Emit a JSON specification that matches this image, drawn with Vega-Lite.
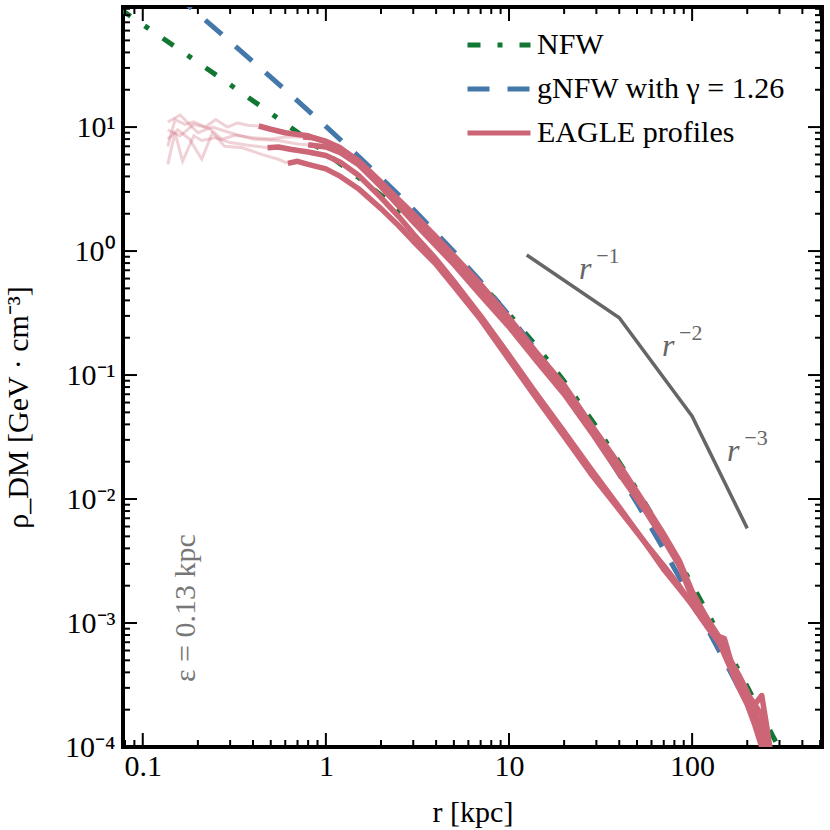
{
  "$schema": "https://vega.github.io/schema/vega-lite/v6.json",
  "width": 699,
  "height": 740,
  "autosize": {"type": "none"},
  "padding": {"left": 123, "top": 7, "right": 8, "bottom": 83},
  "background": "white",
  "config": {
    "view": {"stroke": "black", "strokeWidth": 4},
    "axis": {"domain": false, "grid": false, "ticks": false,
      "labelFont": "Liberation Serif", "labelFontSize": 30, "labelColor": "black",
      "titleFont": "Liberation Serif", "titleFontSize": 30, "titleFontWeight": "normal", "titleColor": "black"}
  },
  "datasets": {
    "models": [
      {"series": "NFW", "r": 0.075, "rho": 89.76}, {"series": "NFW", "r": 0.1, "rho": 67.16}, {"series": "NFW", "r": 0.15, "rho": 44.56},
      {"series": "NFW", "r": 0.2, "rho": 33.26}, {"series": "NFW", "r": 0.3, "rho": 21.97}, {"series": "NFW", "r": 0.5, "rho": 12.94},
      {"series": "NFW", "r": 0.7, "rho": 9.071}, {"series": "NFW", "r": 1, "rho": 6.178}, {"series": "NFW", "r": 1.5, "rho": 3.937},
      {"series": "NFW", "r": 2, "rho": 2.826}, {"series": "NFW", "r": 3, "rho": 1.73}, {"series": "NFW", "r": 5, "rho": 0.8846},
      {"series": "NFW", "r": 7, "rho": 0.5448}, {"series": "NFW", "r": 10, "rho": 0.3111}, {"series": "NFW", "r": 15, "rho": 0.1538},
      {"series": "NFW", "r": 20, "rho": 0.08893}, {"series": "NFW", "r": 30, "rho": 0.03832}, {"series": "NFW", "r": 50, "rho": 0.011863},
      {"series": "NFW", "r": 70, "rho": 0.005158}, {"series": "NFW", "r": 100, "rho": 0.0020422}, {"series": "NFW", "r": 150, "rho": 0.0006817},
      {"series": "NFW", "r": 200, "rho": 0.0003061}, {"series": "NFW", "r": 300, "rho": 0.00009673}, {"series": "NFW", "r": 400, "rho": 0.00004218},
      {"series": "gNFW with γ = 1.26", "r": 0.15, "rho": 118.6}, {"series": "gNFW with γ = 1.26", "r": 0.2, "rho": 82.18},
      {"series": "gNFW with γ = 1.26", "r": 0.3, "rho": 48.9}, {"series": "gNFW with γ = 1.26", "r": 0.5, "rho": 25.26},
      {"series": "gNFW with γ = 1.26", "r": 0.7, "rho": 16.26}, {"series": "gNFW with γ = 1.26", "r": 1, "rho": 10.125},
      {"series": "gNFW with γ = 1.26", "r": 1.5, "rho": 5.837}, {"series": "gNFW with γ = 1.26", "r": 2, "rho": 3.906},
      {"series": "gNFW with γ = 1.26", "r": 3, "rho": 2.1727}, {"series": "gNFW with γ = 1.26", "r": 5, "rho": 0.9903},
      {"series": "gNFW with γ = 1.26", "r": 7, "rho": 0.5685}, {"series": "gNFW with γ = 1.26", "r": 10, "rho": 0.3029},
      {"series": "gNFW with γ = 1.26", "r": 15, "rho": 0.13951}, {"series": "gNFW with γ = 1.26", "r": 20, "rho": 0.0772},
      {"series": "gNFW with γ = 1.26", "r": 30, "rho": 0.031544}, {"series": "gNFW with γ = 1.26", "r": 50, "rho": 0.009273},
      {"series": "gNFW with γ = 1.26", "r": 70, "rho": 0.00393}, {"series": "gNFW with γ = 1.26", "r": 100, "rho": 0.0015236},
      {"series": "gNFW with γ = 1.26", "r": 150, "rho": 0.0004999}, {"series": "gNFW with γ = 1.26", "r": 200, "rho": 0.00022245},
      {"series": "gNFW with γ = 1.26", "r": 300, "rho": 0.00006957}
    ],
    "eagle": [
      {"id": "A", "r": 0.43, "rho": 10.2}, {"id": "A", "r": 0.5, "rho": 9.6}, {"id": "A", "r": 0.6, "rho": 9.0}, {"id": "A", "r": 0.7, "rho": 8.7},
      {"id": "A", "r": 0.8, "rho": 8.5}, {"id": "A", "r": 0.9, "rho": 8.0}, {"id": "A", "r": 1.0, "rho": 7.6}, {"id": "A", "r": 1.2, "rho": 6.7},
      {"id": "A", "r": 1.5, "rho": 5.4}, {"id": "A", "r": 2, "rho": 3.6}, {"id": "A", "r": 2.5, "rho": 2.6}, {"id": "A", "r": 3, "rho": 2.0},
      {"id": "A", "r": 4, "rho": 1.3}, {"id": "A", "r": 5, "rho": 0.92}, {"id": "A", "r": 7, "rho": 0.54}, {"id": "A", "r": 10, "rho": 0.29},
      {"id": "A", "r": 14, "rho": 0.155}, {"id": "A", "r": 20, "rho": 0.083}, {"id": "A", "r": 28, "rho": 0.04}, {"id": "A", "r": 40, "rho": 0.019},
      {"id": "A", "r": 55, "rho": 0.0092}, {"id": "A", "r": 70, "rho": 0.0052}, {"id": "A", "r": 85, "rho": 0.0032}, {"id": "A", "r": 100, "rho": 0.0018},
      {"id": "A", "r": 120, "rho": 0.0011}, {"id": "A", "r": 140, "rho": 0.00075}, {"id": "A", "r": 160, "rho": 0.0005}, {"id": "A", "r": 180, "rho": 0.00035},
      {"id": "A", "r": 200, "rho": 0.00027}, {"id": "A", "r": 220, "rho": 0.00022}, {"id": "A", "r": 240, "rho": 0.00018}, {"id": "A", "r": 260, "rho": 0.0001},
      {"id": "A", "r": 280, "rho": 0.00006},
      {"id": "B", "r": 0.75, "rho": 8.3}, {"id": "B", "r": 0.85, "rho": 8.2}, {"id": "B", "r": 1.0, "rho": 7.7}, {"id": "B", "r": 1.2, "rho": 6.8},
      {"id": "B", "r": 1.5, "rho": 5.3}, {"id": "B", "r": 2, "rho": 3.5}, {"id": "B", "r": 2.5, "rho": 2.45}, {"id": "B", "r": 3, "rho": 1.85},
      {"id": "B", "r": 4, "rho": 1.2}, {"id": "B", "r": 5, "rho": 0.85}, {"id": "B", "r": 7, "rho": 0.49}, {"id": "B", "r": 10, "rho": 0.265},
      {"id": "B", "r": 14, "rho": 0.145}, {"id": "B", "r": 20, "rho": 0.078}, {"id": "B", "r": 28, "rho": 0.037}, {"id": "B", "r": 40, "rho": 0.017},
      {"id": "B", "r": 55, "rho": 0.0085}, {"id": "B", "r": 70, "rho": 0.005}, {"id": "B", "r": 85, "rho": 0.003}, {"id": "B", "r": 100, "rho": 0.0017},
      {"id": "B", "r": 120, "rho": 0.0011}, {"id": "B", "r": 140, "rho": 0.0007}, {"id": "B", "r": 160, "rho": 0.00045}, {"id": "B", "r": 180, "rho": 0.0003},
      {"id": "B", "r": 200, "rho": 0.00022}, {"id": "B", "r": 220, "rho": 0.00015}, {"id": "B", "r": 240, "rho": 0.0001}, {"id": "B", "r": 260, "rho": 0.00007},
      {"id": "C", "r": 0.48, "rho": 6.8}, {"id": "C", "r": 0.55, "rho": 6.9}, {"id": "C", "r": 0.65, "rho": 6.6}, {"id": "C", "r": 0.8, "rho": 6.3},
      {"id": "C", "r": 1.0, "rho": 5.9}, {"id": "C", "r": 1.2, "rho": 5.2}, {"id": "C", "r": 1.5, "rho": 4.1}, {"id": "C", "r": 2, "rho": 2.7},
      {"id": "C", "r": 2.5, "rho": 1.9}, {"id": "C", "r": 3, "rho": 1.38}, {"id": "C", "r": 4, "rho": 0.86}, {"id": "C", "r": 5, "rho": 0.57},
      {"id": "C", "r": 7, "rho": 0.3}, {"id": "C", "r": 10, "rho": 0.145}, {"id": "C", "r": 14, "rho": 0.072}, {"id": "C", "r": 20, "rho": 0.035},
      {"id": "C", "r": 28, "rho": 0.0175}, {"id": "C", "r": 40, "rho": 0.0086}, {"id": "C", "r": 55, "rho": 0.0045}, {"id": "C", "r": 70, "rho": 0.0027},
      {"id": "C", "r": 85, "rho": 0.0019}, {"id": "C", "r": 100, "rho": 0.0014}, {"id": "C", "r": 120, "rho": 0.00095}, {"id": "C", "r": 140, "rho": 0.0007},
      {"id": "C", "r": 155, "rho": 0.0006}, {"id": "C", "r": 170, "rho": 0.0004}, {"id": "C", "r": 200, "rho": 0.00024}, {"id": "C", "r": 230, "rho": 0.00014},
      {"id": "C", "r": 260, "rho": 0.00008},
      {"id": "D", "r": 0.62, "rho": 5.1}, {"id": "D", "r": 0.7, "rho": 5.3}, {"id": "D", "r": 0.8, "rho": 5.0}, {"id": "D", "r": 1.0, "rho": 4.6},
      {"id": "D", "r": 1.2, "rho": 4.0}, {"id": "D", "r": 1.5, "rho": 3.2}, {"id": "D", "r": 2, "rho": 2.2}, {"id": "D", "r": 2.5, "rho": 1.6},
      {"id": "D", "r": 3, "rho": 1.2}, {"id": "D", "r": 4, "rho": 0.78}, {"id": "D", "r": 5, "rho": 0.52}, {"id": "D", "r": 7, "rho": 0.28},
      {"id": "D", "r": 10, "rho": 0.133}, {"id": "D", "r": 14, "rho": 0.066}, {"id": "D", "r": 20, "rho": 0.032}, {"id": "D", "r": 28, "rho": 0.016},
      {"id": "D", "r": 40, "rho": 0.0082}, {"id": "D", "r": 55, "rho": 0.0045}, {"id": "D", "r": 70, "rho": 0.0029}, {"id": "D", "r": 85, "rho": 0.002},
      {"id": "D", "r": 100, "rho": 0.0014}, {"id": "D", "r": 120, "rho": 0.00095}, {"id": "D", "r": 140, "rho": 0.0007}, {"id": "D", "r": 160, "rho": 0.00052},
      {"id": "D", "r": 180, "rho": 0.00038}, {"id": "D", "r": 200, "rho": 0.00028}, {"id": "D", "r": 230, "rho": 0.00016}, {"id": "D", "r": 250, "rho": 0.0001},
      {"id": "E", "r": 0.8, "rho": 7.2}, {"id": "E", "r": 1.0, "rho": 6.9}, {"id": "E", "r": 1.2, "rho": 6.2}, {"id": "E", "r": 1.5, "rho": 5.0},
      {"id": "E", "r": 2, "rho": 3.3}, {"id": "E", "r": 2.5, "rho": 2.3}, {"id": "E", "r": 3, "rho": 1.72}, {"id": "E", "r": 4, "rho": 1.1},
      {"id": "E", "r": 5, "rho": 0.78}, {"id": "E", "r": 7, "rho": 0.44}, {"id": "E", "r": 10, "rho": 0.245}, {"id": "E", "r": 14, "rho": 0.132},
      {"id": "E", "r": 20, "rho": 0.07}, {"id": "E", "r": 28, "rho": 0.035}, {"id": "E", "r": 40, "rho": 0.016}, {"id": "E", "r": 55, "rho": 0.0082},
      {"id": "E", "r": 70, "rho": 0.0047}, {"id": "E", "r": 85, "rho": 0.0029}, {"id": "E", "r": 100, "rho": 0.0016}, {"id": "E", "r": 120, "rho": 0.0011},
      {"id": "E", "r": 140, "rho": 0.00078}, {"id": "E", "r": 150, "rho": 0.00075}, {"id": "E", "r": 165, "rho": 0.00046}, {"id": "E", "r": 185, "rho": 0.00033}, {"id": "E", "r": 205, "rho": 0.00025},
      {"id": "E", "r": 220, "rho": 0.00022}, {"id": "E", "r": 240, "rho": 0.00026}, {"id": "E", "r": 255, "rho": 0.00015}, {"id": "E", "r": 275, "rho": 0.00007}
    ],
    "faded": [
      {"id": "A", "r": 0.137, "rho": 7.0}, {"id": "A", "r": 0.15, "rho": 11.5}, {"id": "A", "r": 0.17, "rho": 10.5}, {"id": "A", "r": 0.19, "rho": 11.0},
      {"id": "A", "r": 0.22, "rho": 10.0}, {"id": "A", "r": 0.25, "rho": 11.5}, {"id": "A", "r": 0.29, "rho": 10.0}, {"id": "A", "r": 0.33, "rho": 10.8},
      {"id": "A", "r": 0.38, "rho": 10.3}, {"id": "A", "r": 0.43, "rho": 10.2},
      {"id": "B", "r": 0.137, "rho": 9.5}, {"id": "B", "r": 0.16, "rho": 8.5}, {"id": "B", "r": 0.19, "rho": 10.5}, {"id": "B", "r": 0.23, "rho": 9.8},
      {"id": "B", "r": 0.27, "rho": 8.0}, {"id": "B", "r": 0.32, "rho": 8.6}, {"id": "B", "r": 0.4, "rho": 8.2}, {"id": "B", "r": 0.5, "rho": 8.0},
      {"id": "B", "r": 0.6, "rho": 8.3}, {"id": "B", "r": 0.75, "rho": 8.3},
      {"id": "C", "r": 0.137, "rho": 5.0}, {"id": "C", "r": 0.15, "rho": 9.0}, {"id": "C", "r": 0.165, "rho": 5.3}, {"id": "C", "r": 0.19, "rho": 8.5},
      {"id": "C", "r": 0.21, "rho": 7.8}, {"id": "C", "r": 0.25, "rho": 8.2}, {"id": "C", "r": 0.3, "rho": 7.5}, {"id": "C", "r": 0.36, "rho": 7.2},
      {"id": "C", "r": 0.42, "rho": 7.0}, {"id": "C", "r": 0.48, "rho": 6.8},
      {"id": "D", "r": 0.137, "rho": 8.0}, {"id": "D", "r": 0.155, "rho": 9.5}, {"id": "D", "r": 0.18, "rho": 8.0}, {"id": "D", "r": 0.21, "rho": 5.5},
      {"id": "D", "r": 0.24, "rho": 9.0}, {"id": "D", "r": 0.28, "rho": 7.0}, {"id": "D", "r": 0.35, "rho": 6.8}, {"id": "D", "r": 0.45, "rho": 6.0},
      {"id": "D", "r": 0.55, "rho": 5.5}, {"id": "D", "r": 0.62, "rho": 5.1},
      {"id": "E", "r": 0.137, "rho": 11.0}, {"id": "E", "r": 0.16, "rho": 12.5}, {"id": "E", "r": 0.2, "rho": 9.0}, {"id": "E", "r": 0.24, "rho": 10.0},
      {"id": "E", "r": 0.3, "rho": 9.0}, {"id": "E", "r": 0.4, "rho": 8.0}, {"id": "E", "r": 0.55, "rho": 7.8}, {"id": "E", "r": 0.7, "rho": 7.3},
      {"id": "E", "r": 0.8, "rho": 7.2}
    ],
    "guide": [
      {"r": 12.5, "rho": 0.93}, {"r": 40, "rho": 0.29}, {"r": 100, "rho": 0.0465}, {"r": 200, "rho": 0.0058}
    ],
    "slopes": [
      {"base": "r", "exp": "−1", "r": 30.3, "rho": 0.774},
      {"base": "r", "exp": "−2", "r": 86, "rho": 0.185},
      {"base": "r", "exp": "−3", "r": 195, "rho": 0.0263}
    ],
    "eps": [
      {"label": "ε = 0.13 kpc", "r": 0.172, "rho": 0.00132}
    ],
    "xticks": [
      {"v": 0.08, "k": "minor"}, {"v": 0.09, "k": "minor"}, {"v": 0.1, "k": "major"},
      {"v": 0.2, "k": "minor"}, {"v": 0.3, "k": "minor"}, {"v": 0.4, "k": "minor"}, {"v": 0.5, "k": "minor"}, {"v": 0.6, "k": "minor"}, {"v": 0.7, "k": "minor"}, {"v": 0.8, "k": "minor"}, {"v": 0.9, "k": "minor"}, {"v": 1, "k": "major"},
      {"v": 2, "k": "minor"}, {"v": 3, "k": "minor"}, {"v": 4, "k": "minor"}, {"v": 5, "k": "minor"}, {"v": 6, "k": "minor"}, {"v": 7, "k": "minor"}, {"v": 8, "k": "minor"}, {"v": 9, "k": "minor"}, {"v": 10, "k": "major"},
      {"v": 20, "k": "minor"}, {"v": 30, "k": "minor"}, {"v": 40, "k": "minor"}, {"v": 50, "k": "minor"}, {"v": 60, "k": "minor"}, {"v": 70, "k": "minor"}, {"v": 80, "k": "minor"}, {"v": 90, "k": "minor"}, {"v": 100, "k": "major"},
      {"v": 200, "k": "minor"}, {"v": 300, "k": "minor"}, {"v": 400, "k": "minor"}, {"v": 500, "k": "minor"}
    ],
    "yticks": [
      {"v": 0.0002, "k": "minor"}, {"v": 0.0003, "k": "minor"}, {"v": 0.0004, "k": "minor"}, {"v": 0.0005, "k": "minor"}, {"v": 0.0006, "k": "minor"}, {"v": 0.0007, "k": "minor"}, {"v": 0.0008, "k": "minor"}, {"v": 0.0009, "k": "minor"}, {"v": 0.001, "k": "major"},
      {"v": 0.002, "k": "minor"}, {"v": 0.003, "k": "minor"}, {"v": 0.004, "k": "minor"}, {"v": 0.005, "k": "minor"}, {"v": 0.006, "k": "minor"}, {"v": 0.007, "k": "minor"}, {"v": 0.008, "k": "minor"}, {"v": 0.009, "k": "minor"}, {"v": 0.01, "k": "major"},
      {"v": 0.02, "k": "minor"}, {"v": 0.03, "k": "minor"}, {"v": 0.04, "k": "minor"}, {"v": 0.05, "k": "minor"}, {"v": 0.06, "k": "minor"}, {"v": 0.07, "k": "minor"}, {"v": 0.08, "k": "minor"}, {"v": 0.09, "k": "minor"}, {"v": 0.1, "k": "major"},
      {"v": 0.2, "k": "minor"}, {"v": 0.3, "k": "minor"}, {"v": 0.4, "k": "minor"}, {"v": 0.5, "k": "minor"}, {"v": 0.6, "k": "minor"}, {"v": 0.7, "k": "minor"}, {"v": 0.8, "k": "minor"}, {"v": 0.9, "k": "minor"}, {"v": 1, "k": "major"},
      {"v": 2, "k": "minor"}, {"v": 3, "k": "minor"}, {"v": 4, "k": "minor"}, {"v": 5, "k": "minor"}, {"v": 6, "k": "minor"}, {"v": 7, "k": "minor"}, {"v": 8, "k": "minor"}, {"v": 9, "k": "minor"}, {"v": 10, "k": "major"},
      {"v": 20, "k": "minor"}, {"v": 30, "k": "minor"}, {"v": 40, "k": "minor"}, {"v": 50, "k": "minor"}, {"v": 60, "k": "minor"}, {"v": 70, "k": "minor"}, {"v": 80, "k": "minor"}, {"v": 90, "k": "minor"}
    ]
  },
  "resolve": {"axis": {"x": "independent", "y": "independent"}},
  "layer": [
    {
      "data": {"name": "models"},
      "mark": {"type": "line", "strokeWidth": 5, "clip": true, "strokeCap": "butt"},
      "encoding": {
        "x": {"field": "r", "type": "quantitative",
          "scale": {"type": "log", "domain": [0.078, 512], "nice": false},
          "axis": {"orient": "bottom", "title": "r [kpc]", "ticks": false,
            "values": [0.1, 1, 10, 100], "labelExpr": "datum.value == 0.1 ? '0.1' : format(datum.value, 'd')",
            "labelPadding": 4, "labelFlush": false, "labelOverlap": false,
            "titleBaseline": "alphabetic", "titleY": 74}},
        "y": {"field": "rho", "type": "quantitative",
          "scale": {"type": "log", "domain": [0.0001, 93], "nice": false},
          "axis": {"orient": "left", "title": "ρ_DM [GeV · cm⁻³]", "ticks": false,
            "values": [0.0001, 0.001, 0.01, 0.1, 1, 10],
            "labelExpr": "datum.value == 10 ? '10¹' : datum.value == 1 ? '10⁰' : datum.value == 0.1 ? '10⁻¹' : datum.value == 0.01 ? '10⁻²' : datum.value == 0.001 ? '10⁻³' : '10⁻⁴'",
            "labelPadding": 8, "labelFlush": false, "labelOverlap": false,
            "titleBaseline": "alphabetic", "titleAngle": 270, "titleX": -96, "titleY": 400}},
        "color": {"field": "series", "type": "nominal",
          "scale": {"domain": ["NFW", "gNFW with γ = 1.26", "EAGLE profiles"], "range": ["#117733", "#4477AA", "#CC6677"]},
          "legend": {"orient": "none", "legendX": 361, "legendY": 23, "title": null,
            "labelFont": "Liberation Serif", "labelFontSize": 30, "labelColor": "black", "labelLimit": 500,
            "symbolType": "M-3,0H3", "symbolSize": 441, "symbolStrokeWidth": 5, "labelOffset": 23, "rowPadding": 14, "padding": 0}},
        "strokeDash": {"field": "series", "type": "nominal",
          "scale": {"domain": ["NFW", "gNFW with γ = 1.26", "EAGLE profiles"], "range": [[13, 17, 5, 17], [22, 18], [1, 0]]},
          "legend": {"orient": "none", "legendX": 361, "legendY": 23, "title": null,
            "labelFont": "Liberation Serif", "labelFontSize": 30, "labelColor": "black", "labelLimit": 500,
            "symbolType": "M-3,0H3", "symbolSize": 441, "symbolStrokeWidth": 5, "labelOffset": 23, "rowPadding": 14, "padding": 0}}
      }
    },
    {
      "data": {"name": "faded"},
      "mark": {"type": "line", "strokeWidth": 3, "clip": true, "color": "#CC6677", "opacity": 0.3},
      "encoding": {
        "x": {"field": "r", "type": "quantitative", "axis": null},
        "y": {"field": "rho", "type": "quantitative", "axis": null},
        "detail": {"field": "id"}
      }
    },
    {
      "data": {"name": "eagle"},
      "mark": {"type": "line", "strokeWidth": 5.5, "clip": true, "strokeJoin": "round", "color": "#CC6677"},
      "encoding": {
        "x": {"field": "r", "type": "quantitative", "axis": null},
        "y": {"field": "rho", "type": "quantitative", "axis": null},
        "detail": {"field": "id"}
      }
    },
    {
      "data": {"name": "guide"},
      "mark": {"type": "line", "strokeWidth": 3.5, "color": "#666666", "clip": true},
      "encoding": {
        "x": {"field": "r", "type": "quantitative", "axis": null},
        "y": {"field": "rho", "type": "quantitative", "axis": null}
      }
    },
    {
      "mark": {"type": "rule", "strokeDash": [3, 11], "strokeWidth": 3.5, "color": "#777777"},
      "encoding": {
        "x": {"datum": 0.132, "type": "quantitative", "axis": null}
      }
    },
    {
      "data": {"name": "xticks"}, "transform": [{"filter": "datum.k == 'major'"}],
      "mark": {"type": "rule", "strokeWidth": 2, "color": "#000000"},
      "encoding": {
        "x": {"field": "v", "type": "quantitative", "axis": null},
        "y": {"datum": 0.0001, "type": "quantitative", "axis": null},
        "y2": {"datum": 0.0001297}
      }
    },
    {
      "data": {"name": "xticks"}, "transform": [{"filter": "datum.k == 'minor'"}],
      "mark": {"type": "rule", "strokeWidth": 2, "color": "#000000"},
      "encoding": {
        "x": {"field": "v", "type": "quantitative", "axis": null},
        "y": {"datum": 0.0001, "type": "quantitative", "axis": null},
        "y2": {"datum": 0.0001139}
      }
    },
    {
      "data": {"name": "xticks"}, "transform": [{"filter": "datum.k == 'major'"}],
      "mark": {"type": "rule", "strokeWidth": 2, "color": "#000000"},
      "encoding": {
        "x": {"field": "v", "type": "quantitative", "axis": null},
        "y": {"datum": 93, "type": "quantitative", "axis": null},
        "y2": {"datum": 71.7}
      }
    },
    {
      "data": {"name": "xticks"}, "transform": [{"filter": "datum.k == 'minor'"}],
      "mark": {"type": "rule", "strokeWidth": 2, "color": "#000000"},
      "encoding": {
        "x": {"field": "v", "type": "quantitative", "axis": null},
        "y": {"datum": 93, "type": "quantitative", "axis": null},
        "y2": {"datum": 81.66}
      }
    },
    {
      "data": {"name": "yticks"}, "transform": [{"filter": "datum.k == 'major'"}],
      "mark": {"type": "rule", "strokeWidth": 2, "color": "#000000"},
      "encoding": {
        "y": {"field": "v", "type": "quantitative", "axis": null},
        "x": {"datum": 0.078, "type": "quantitative", "axis": null},
        "x2": {"datum": 0.093}
      }
    },
    {
      "data": {"name": "yticks"}, "transform": [{"filter": "datum.k == 'minor'"}],
      "mark": {"type": "rule", "strokeWidth": 2, "color": "#000000"},
      "encoding": {
        "y": {"field": "v", "type": "quantitative", "axis": null},
        "x": {"datum": 0.078, "type": "quantitative", "axis": null},
        "x2": {"datum": 0.08517}
      }
    },
    {
      "data": {"name": "yticks"}, "transform": [{"filter": "datum.k == 'major'"}],
      "mark": {"type": "rule", "strokeWidth": 2, "color": "#000000"},
      "encoding": {
        "y": {"field": "v", "type": "quantitative", "axis": null},
        "x": {"datum": 512, "type": "quantitative", "axis": null},
        "x2": {"datum": 429.4}
      }
    },
    {
      "data": {"name": "yticks"}, "transform": [{"filter": "datum.k == 'minor'"}],
      "mark": {"type": "rule", "strokeWidth": 2, "color": "#000000"},
      "encoding": {
        "y": {"field": "v", "type": "quantitative", "axis": null},
        "x": {"datum": 512, "type": "quantitative", "axis": null},
        "x2": {"datum": 468.9}
      }
    },
    {
      "data": {"name": "slopes"},
      "mark": {"type": "text", "font": "Liberation Serif", "fontSize": 32, "fontStyle": "italic", "color": "#666666", "align": "center", "baseline": "middle", "dx": -12, "dy": 4},
      "encoding": {
        "x": {"field": "r", "type": "quantitative", "axis": null},
        "y": {"field": "rho", "type": "quantitative", "axis": null},
        "text": {"field": "base"}
      }
    },
    {
      "data": {"name": "slopes"},
      "mark": {"type": "text", "font": "Liberation Serif", "fontSize": 22, "color": "#666666", "align": "left", "baseline": "middle", "dx": -1, "dy": -9},
      "encoding": {
        "x": {"field": "r", "type": "quantitative", "axis": null},
        "y": {"field": "rho", "type": "quantitative", "axis": null},
        "text": {"field": "exp"}
      }
    },
    {
      "data": {"name": "eps"},
      "mark": {"type": "text", "font": "Liberation Serif", "fontSize": 30, "color": "#777777", "align": "center", "baseline": "middle", "angle": 270},
      "encoding": {
        "x": {"field": "r", "type": "quantitative", "axis": null},
        "y": {"field": "rho", "type": "quantitative", "axis": null},
        "text": {"field": "label"}
      }
    }
  ]
}
